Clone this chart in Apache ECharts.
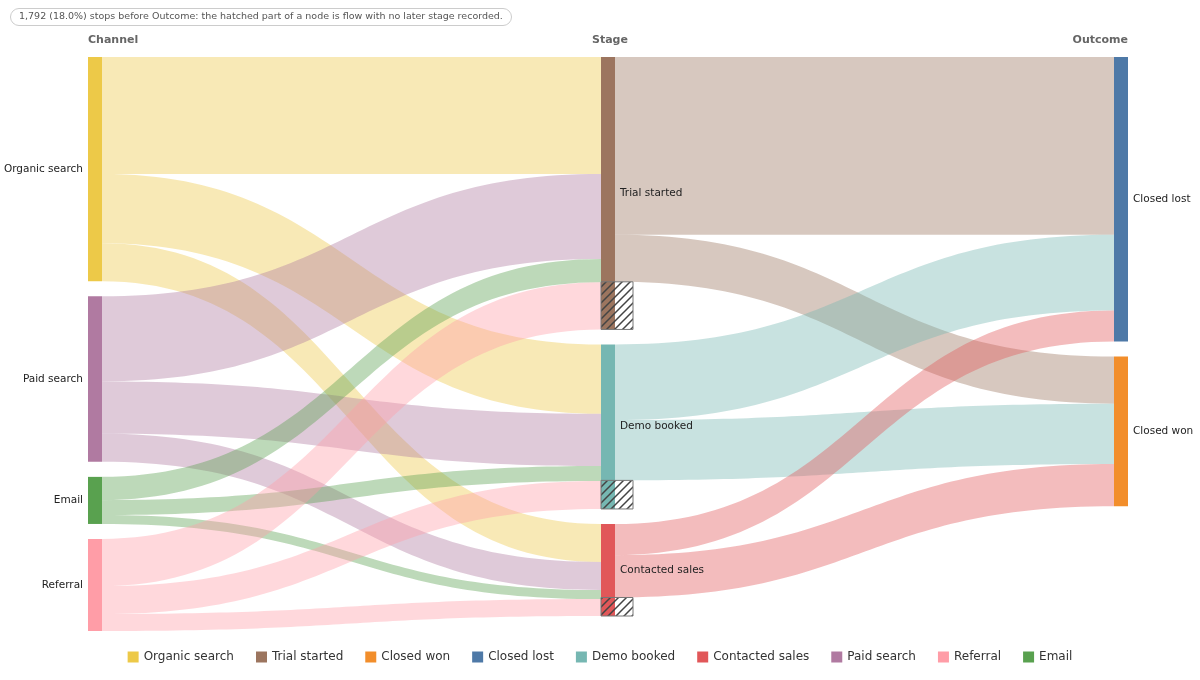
<!DOCTYPE html>
<html>
<head>
<meta charset="UTF-8">
<title>Sankey</title>
<script src="https://cdn.jsdelivr.net/npm/echarts@6/dist/echarts.min.js"></script>
<style>html,body{margin:0;padding:0;background:#fff}</style>
</head>
<body>
<div id="main" style="width:1200px;height:680px"></div>
<script>
var channels = ['Organic search', 'Paid search', 'Email', 'Referral'];
var stages = ['Trial started', 'Demo booked', 'Contacted sales'];
var outcomes = ['Closed lost', 'Closed won'];
// channel -> [Trial, Demo, Contacted]
var channelToStage = [
    [2210, 1310, 720],
    [1610, 990, 530],
    [440, 280, 170],
    [890, 530, 320]
];
// stage -> [Closed lost, Closed won]
var stageToOutcome = [
    [3360, 890],
    [1430, 1140],
    [590, 800]
];
var legendOrder = ['Organic search', 'Trial started', 'Closed won', 'Closed lost', 'Demo booked', 'Contacted sales', 'Paid search', 'Referral', 'Email'];
var colors = {
    'Organic search': '#edc948', 'Paid search': '#b07aa1', 'Email': '#59a14f', 'Referral': '#ff9da7',
    'Trial started': '#9c755f', 'Demo booked': '#76b7b2', 'Contacted sales': '#e15759',
    'Closed lost': '#4e79a7', 'Closed won': '#f28e2b'
};
var note = '1,792 (18.0%) stops before Outcome: the hatched part of a node is flow with no later stage recorded.';

var links = [];
channels.forEach(function (c, i) {
    stages.forEach(function (s, j) { links.push({ source: c, target: s, value: channelToStage[i][j] }); });
});
stages.forEach(function (s, i) {
    outcomes.forEach(function (o, j) { links.push({ source: s, target: o, value: stageToOutcome[i][j] }); });
});
var nodes = [];
channels.forEach(function (n) { nodes.push({ name: n, itemStyle: { color: colors[n] }, label: { position: 'left' } }); });
stages.forEach(function (n) { nodes.push({ name: n, itemStyle: { color: colors[n] } }); });
outcomes.forEach(function (n) { nodes.push({ name: n, itemStyle: { color: colors[n] } }); });

var chart = echarts.init(document.getElementById('main'));
var headStyle = { fontSize: 11, fontWeight: 'bold', fill: '#666', fontFamily: 'DejaVu Sans' };
var headings = [
    { type: 'text', left: 88, top: 35, style: Object.assign({ text: 'Channel' }, headStyle) },
    { type: 'text', left: 592, top: 35, style: Object.assign({ text: 'Stage' }, headStyle) },
    { type: 'text', right: 72, top: 35, style: Object.assign({ text: 'Outcome' }, headStyle) }
];
chart.setOption({
    animation: false,
    title: {
        text: note, left: 10, top: 8,
        borderColor: '#ccc', borderWidth: 1, borderRadius: 10, padding: [4, 9],
        textStyle: { fontSize: 9.5, fontWeight: 'normal', color: '#555', fontFamily: 'DejaVu Sans' }
    },
    legend: {
        data: legendOrder, bottom: 12, itemWidth: 11, itemHeight: 11, itemGap: 22, icon: 'rect',
        textStyle: { fontSize: 12, color: '#333', fontFamily: 'DejaVu Sans' }
    },
    series: [{
        type: 'sankey',
        left: 88, right: 72, top: 57, bottom: 49,
        nodeWidth: 14, nodeGap: 15,
        layoutIterations: 0,
        draggable: false,
        data: nodes,
        links: links,
        label: { fontSize: 10.5, color: '#222', fontFamily: 'DejaVu Sans' },
        lineStyle: { color: 'source', opacity: 0.4, curveness: 0.5 },
        itemStyle: { borderWidth: 0 },
        emphasis: { disabled: true }
    }, {
        // carries the legend entries only
        type: 'pie', radius: [0, 0], center: [-100, -100], silent: true,
        label: { show: false }, labelLine: { show: false },
        data: legendOrder.map(function (n) { return { name: n, value: 1, itemStyle: { color: colors[n] } }; })
    }],
    graphic: headings
});

// hatched drop-off part of stage nodes
var pat = document.createElement('canvas');
pat.width = 8; pat.height = 8;
var g = pat.getContext('2d');
g.strokeStyle = '#444'; g.lineWidth = 1.5;
g.beginPath(); g.moveTo(0, 8); g.lineTo(8, 0); g.moveTo(-2, 2); g.lineTo(2, -2); g.moveTo(6, 10); g.lineTo(10, 6); g.stroke();

try {
    var series = chart.getModel().getSeriesByIndex(0);
    var data = series.getData();
    var box = series.layoutInfo || { x: 88, y: 57 };
    var hatch = [];
    stages.forEach(function (s, i) {
        var idx = nodes.findIndex(function (n) { return n.name === s; });
        var lay = data.getItemLayout(idx);
        var inSum = channelToStage.reduce(function (a, r) { return a + r[i]; }, 0);
        var outSum = stageToOutcome[i][0] + stageToOutcome[i][1];
        var k = lay.dy / inSum;
        var rect = { x: box.x + lay.x, y: box.y + lay.y + outSum * k, width: 32, height: (inSum - outSum) * k };
        hatch.push({ type: 'rect', z: 99, silent: true, shape: { x: rect.x + 14, y: rect.y, width: 18, height: rect.height }, style: { fill: '#fff' } });
        hatch.push({
            type: 'rect', z: 100, silent: true, shape: rect,
            style: { fill: { image: pat, repeat: 'repeat' }, stroke: '#777', lineWidth: 1 }
        });
    });
    chart.setOption({ graphic: headings.concat(hatch) }, { replaceMerge: ['graphic'] });
} catch (e) { console.error(e); }
</script>
</body>
</html>
